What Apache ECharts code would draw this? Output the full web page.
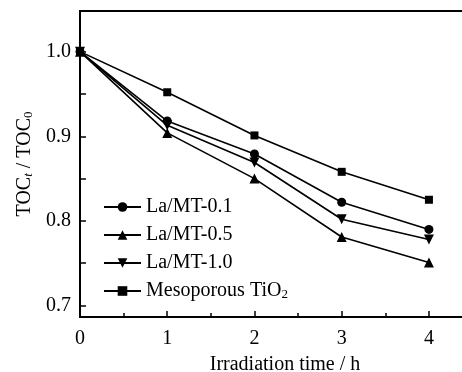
<!DOCTYPE html>
<html><head><meta charset="utf-8">
<script src="https://cdn.jsdelivr.net/npm/echarts@6/dist/echarts.min.js"></script>
<style>html,body{margin:0;padding:0;background:#fff}#c{width:462px;height:372px}</style>
</head><body><div id="c"></div>
<script>
const times = [0, 1, 2, 3, 4];
const seriesNames = ['La/MT-0.1', 'La/MT-0.5', 'La/MT-1.0', 'Mesoporous TiO2'];
const la01 = [1.0, 0.918, 0.879, 0.822, 0.790];
const la05 = [1.0, 0.904, 0.850, 0.781, 0.751];
const la10 = [1.0, 0.913, 0.869, 0.802, 0.778];
const meso = [1.0, 0.952, 0.901, 0.858, 0.825];
const yTicks = [0.7, 0.8, 0.9, 1.0];
const yMinorTicks = [0.75, 0.85, 0.95];

const font = 'Liberation Serif, Times New Roman, serif';
const pair = arr => times.map((t, i) => [t, arr[i]]);
function mk(name, data, symbol, size, rot) {
  return {
    name, type: 'line', data: pair(data), symbol, symbolSize: size, symbolRotate: rot || 0,
    lineStyle: { color: '#000', width: 1.6 }, itemStyle: { color: '#000' },
    emphasis: { disabled: true }, animation: false
  };
}
const chart = echarts.init(document.getElementById('c'));
chart.setOption({
  animation: false,
  grid: { left: 80, top: 11, width: 410, height: 306, show: true, borderColor: '#000', borderWidth: 2,
    outerBoundsMode: 'none', containLabel: false },
  xAxis: {
    type: 'value', min: 0, max: 4.7, interval: 1,
    axisLine: { lineStyle: { color: '#000', width: 2 } },
    axisTick: { inside: true, length: 6, lineStyle: { color: '#000', width: 1.5 } },
    minorTick: { show: true, splitNumber: 2, length: 4, lineStyle: { color: '#000', width: 1.5 } },
    splitLine: { show: false },
    axisLabel: { color: '#000', fontFamily: font, fontSize: 20, margin: 12,
      formatter: v => (times.indexOf(v) >= 0 ? String(v) : '') },
    name: 'Irradiation time / h', nameLocation: 'middle', nameGap: 38,
    nameTextStyle: { color: '#000', fontFamily: font, fontSize: 20 }
  },
  yAxis: {
    type: 'value', min: 0.6865, max: 1.048,
    axisLine: { show: true, lineStyle: { color: '#000', width: 2 } },
    axisTick: { show: true, inside: true, length: 6, customValues: yTicks.concat(yMinorTicks),
      lineStyle: { color: '#000', width: 1.5 } },
    splitLine: { show: false },
    axisLabel: { show: true, color: '#000', fontFamily: font, fontSize: 20, margin: 9,
      customValues: yTicks, formatter: v => v.toFixed(1) },
    name: '{n|TOC}{s|t}{n| / TOC}{z|0}', nameLocation: 'middle', nameGap: 42,
    nameTextStyle: { color: '#000', fontFamily: font, fontSize: 20,
      rich: {
        n: { fontFamily: font, fontSize: 20, color: '#000' },
        s: { fontFamily: font, fontSize: 13, fontStyle: 'italic', color: '#000', verticalAlign: 'bottom', padding: [8, 0, 0, 0] },
        z: { fontFamily: font, fontSize: 13, color: '#000', verticalAlign: 'bottom', padding: [8, 0, 0, 0] }
      } }
  },
  legend: {
    left: 98, top: 192, orient: 'vertical', itemWidth: 37, itemHeight: 12, itemGap: 8,
    data: seriesNames,
    textStyle: { color: '#000', fontFamily: font, fontSize: 20,
      rich: { sub: { fontFamily: font, fontSize: 13, color: '#000', verticalAlign: 'bottom', padding: [8, 0, 0, 0] } } },
    formatter: n => n === 'Mesoporous TiO2' ? 'Mesoporous TiO{sub|2}' : n,
    selectedMode: false
  },
  series: [
    mk(seriesNames[0], la01, 'circle', 9),
    mk(seriesNames[1], la05, 'triangle', 10),
    mk(seriesNames[2], la10, 'triangle', 10, 180),
    mk(seriesNames[3], meso, 'rect', 8)
  ]
});
</script></body></html>
